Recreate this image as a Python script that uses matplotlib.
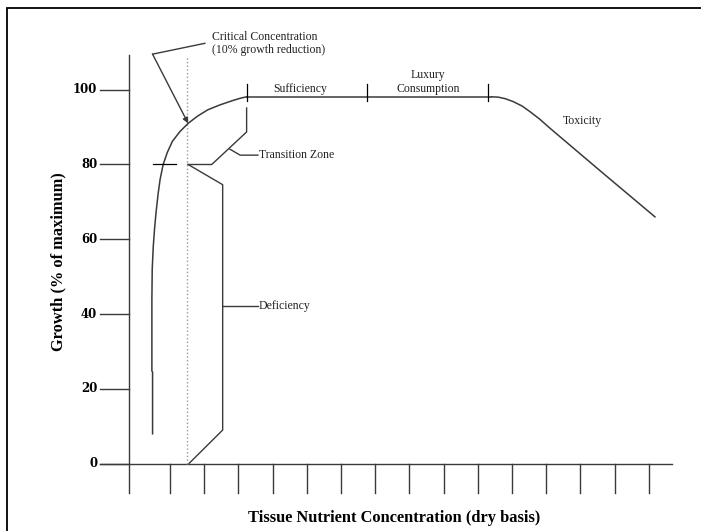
import matplotlib
matplotlib.use("Agg")
import matplotlib.pyplot as plt
from matplotlib.patches import Rectangle

# growth response curve (x in tick units, y in % of maximum)
rise_x = [0.49, 0.49, 0.47, 0.47, 0.48, 0.51, 0.55, 0.59, 0.65, 0.71, 0.80, 0.92, 1.07, 1.29,
          1.53, 1.80, 2.10, 2.45, 2.80, 3.05, 3.24]
rise_y = [8.0, 24.5, 24.8, 43.8, 52.0, 58.0, 63.0, 67.0, 72.0, 76.0, 80.0, 83.2, 86.2, 88.8,
          91.0, 92.9, 94.6, 95.9, 97.0, 97.7, 98.1]
plateau_x = [3.24, 10.40]
plateau_y = [98.1, 98.1]
toxic_x = [10.40, 10.60, 10.80, 11.04, 11.30, 11.53, 11.80, 12.11, 13.67, 15.18]
toxic_y = [98.1, 98.0, 97.6, 96.8, 95.6, 94.1, 92.2, 89.7, 77.6, 66.0]

zone_ticks_x = [3.24, 6.76, 10.31]
critical_x = 1.5

y_ticks = [0, 20, 40, 60, 80, 100]
x_ticks = list(range(1, 16))

# brackets
transition_x = [1.53, 2.22, 3.24, 3.24]
transition_y = [80.0, 80.0, 88.7, 95.1]
deficiency_x = [1.53, 2.54, 2.54, 1.56]
deficiency_y = [80.0, 74.6, 9.0, 0.1]

ink = "#3a3a3a"
serif = "Liberation Serif"

fig = plt.figure(figsize=(7.01, 5.31), dpi=100)
ax = fig.add_axes([0, 0, 1, 1])
ax.set_xlim(-3.971, 16.526)
ax.set_ylim(-17.99, 123.98)
ax.axis("off")

# outer frame
fig.patches.append(Rectangle((7 / 701, -0.2), 1.2, 1.2 - 8 / 531, transform=fig.transFigure,
                             fill=False, edgecolor="black", linewidth=1.3))

# axes drawn by hand
ax.plot([-0.198, -0.198], [-7.8, 109.3], color=ink, lw=1.0)
ax.plot([-1.046, 15.67], [0, 0], color=ink, lw=1.0)
for t in y_ticks:
    ax.plot([-1.046, -0.198], [t, t], color=ink, lw=1.0)
    ax.text(-1.13, t, str(t), ha="right", va="center", family="DejaVu Serif",
            fontweight="bold", fontsize=8.5)
for t in x_ticks:
    ax.plot([t, t], [0, -7.8], color=ink, lw=1.0)

# critical concentration dotted line
ax.plot([critical_x, critical_x], [0, 108.8], color="#9a9a9a", lw=1.0, ls=":")

# response curve
ax.plot(rise_x, rise_y, color=ink, lw=1.1, solid_joinstyle="round")
ax.plot(plateau_x, plateau_y, color=ink, lw=1.1)
ax.plot(toxic_x, toxic_y, color=ink, lw=1.1, solid_joinstyle="round")
for zx in zone_ticks_x:
    ax.plot([zx, zx], [96.9, 101.4], color="black", lw=0.9)

# 80% marker and brackets
ax.plot([0.49, 1.17], [80, 80], color="black", lw=0.9)
ax.plot(transition_x, transition_y, color=ink, lw=1.0)
ax.plot(deficiency_x, deficiency_y, color=ink, lw=1.0)
ax.plot([2.75, 3.05, 3.57], [84.1, 82.5, 82.5], color=ink, lw=1.0)
ax.plot([2.54, 3.57], [42.2, 42.2], color=ink, lw=1.0)

# critical concentration leader with arrow
ax.plot([2.02, 0.49], [112.4, 109.5], color=ink, lw=1.0)
ax.annotate("", xy=(1.53, 91.0), xytext=(0.49, 109.5),
            arrowprops=dict(arrowstyle="-|>", color=ink, lw=1.0,
                            mutation_scale=8, shrinkA=0, shrinkB=0))

lab = dict(family=serif, fontsize=8.5, color="#222222")
ax.text(2.22, 112.3, "Critical Concentration\n(10% growth reduction)", ha="left", va="center",
        linespacing=1.15, **lab)
ax.text(4.80, 100.3, "Sufficiency", ha="center", va="center", **lab)
ax.text(8.54, 102.1, "Luxury\nConsumption", ha="center", va="center", linespacing=1.15, **lab)
ax.text(13.07, 91.6, "Toxicity", ha="center", va="center", **lab)
ax.text(3.60, 82.6, "Transition Zone", ha="left", va="center", **lab)
ax.text(3.60, 42.2, "Deficiency", ha="left", va="center", **lab)

ax.text(-2.27, 54.1, "Growth (% of maximum)", rotation=90, ha="center", va="center",
        family=serif, fontweight="bold", fontsize=11.8)
ax.text(7.55, -14.5, "Tissue Nutrient Concentration (dry basis)", ha="center", va="center",
        family=serif, fontweight="bold", fontsize=11.8)

fig.savefig("out.png", dpi=100)
